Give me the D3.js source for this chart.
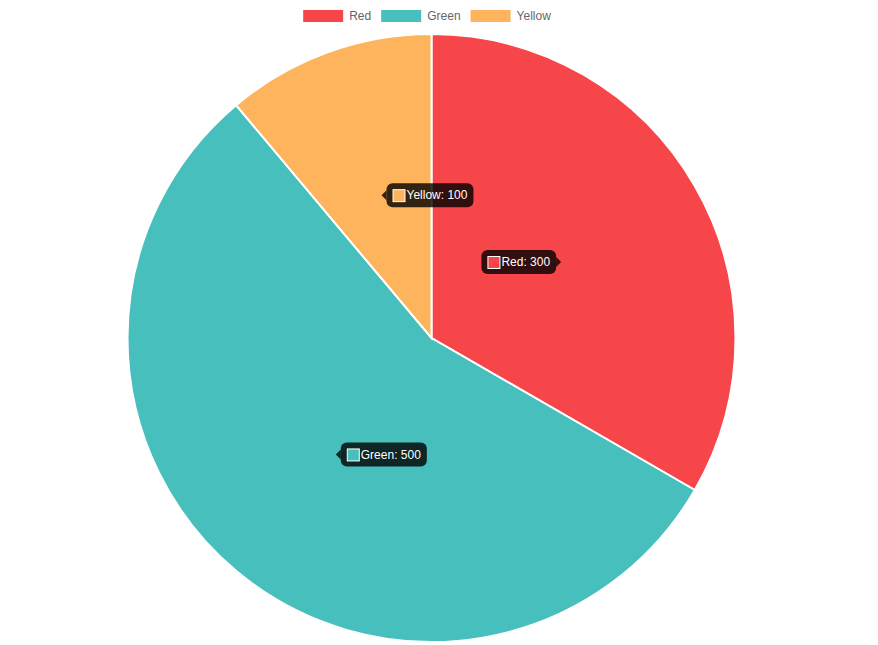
<!DOCTYPE html>
<html>
<head>
<meta charset="utf-8">
<script src="https://cdnjs.cloudflare.com/ajax/libs/d3/7.8.5/d3.min.js"></script>
<style>
  body { margin: 0; background: #fff; }
  svg { display: block; font-family: "Liberation Sans", Helvetica, Arial, sans-serif; }
</style>
</head>
<body>
<svg width="878" height="645"></svg>
<script>
const labels = ["Red", "Green", "Yellow"];
const values = [300, 500, 100];
const colors = ["#F7464A", "#46BFBD", "#FDB45C"];

const svg = d3.select("svg");
const cx = 431.5, cy = 338, radius = 304;

const pie = d3.pie().sort(null).value(d => d.value);
const arcs = pie(labels.map((l, i) => ({ label: l, value: values[i], color: colors[i] })));

const arc = d3.arc().innerRadius(0).outerRadius(radius);
// tooltip anchor sits halfway out, like chart.js
const mid = d3.arc().innerRadius(0).outerRadius(radius);

const g = svg.append("g").attr("transform", `translate(${cx},${cy})`);

g.selectAll("path.slice")
    .data(arcs)
    .join("path")
    .attr("class", "slice")
    .attr("d", arc)
    .attr("fill", d => d.data.color)
    .attr("stroke", "#fff")
    .attr("stroke-width", 2);

// legend
const legend = svg.append("g");
const items = legend.selectAll("g.item")
    .data(arcs)
    .join("g")
    .attr("class", "item");

items.append("rect")
    .attr("width", 40)
    .attr("height", 12)
    .attr("y", 10)
    .attr("fill", d => d.data.color);

items.append("text")
    .attr("x", 46)
    .attr("y", 16)
    .attr("dy", "0.35em")
    .attr("font-size", 12)
    .attr("fill", "#666")
    .text(d => d.data.label);

let widths = [];
items.each(function () {
    widths.push(46 + d3.select(this).select("text").node().getComputedTextLength());
});
const total = d3.sum(widths) + 10 * (widths.length - 1);
let lx = 427 - total / 2;
items.attr("transform", (d, i) => {
    const t = `translate(${lx},0)`;
    lx += widths[i] + 10;
    return t;
});

// tooltips, always shown
const pad = 6, caret = 5, caretPad = 2, h = 24;

arcs.forEach(d => {
    const [px, py] = mid.centroid(d);
    const x0 = cx + px, y0 = cy + py;
    const tip = svg.append("g");
    const txt = tip.append("text")
        .attr("font-size", 12)
        .attr("fill", "#fff")
        .attr("dy", "0.35em")
        .text(`${d.data.label}: ${d.data.value}`);
    const tw = txt.node().getComputedTextLength();
    const w = tw + pad * 2 + 14;
    // tooltip goes left of point when on the right half
    const onRight = x0 > cx + 50;
    let bx, path;
    if (onRight) {
        bx = x0 - caretPad - caret - w;
        const ex = bx + w;
        path = `M${ex},${y0 - caret} L${ex + caret},${y0} L${ex},${y0 + caret} Z`;
    } else {
        bx = x0 + caretPad + caret;
        path = `M${bx},${y0 - caret} L${bx - caret},${y0} L${bx},${y0 + caret} Z`;
    }
    const by = y0 - h / 2;
    tip.insert("rect", "text")
        .attr("x", bx).attr("y", by)
        .attr("width", w).attr("height", h)
        .attr("rx", 6)
        .attr("fill", "rgba(0,0,0,0.8)");
    tip.insert("path", "text")
        .attr("d", path)
        .attr("fill", "rgba(0,0,0,0.8)");
    tip.append("rect")
        .attr("x", bx + pad + 0.5).attr("y", y0 - 6 + 0.5)
        .attr("width", 12).attr("height", 12)
        .attr("fill", d.data.color)
        .attr("stroke", "#fff")
        .attr("stroke-width", 1);
    txt.attr("x", bx + pad + 14).attr("y", y0);
});
</script>
</body>
</html>
